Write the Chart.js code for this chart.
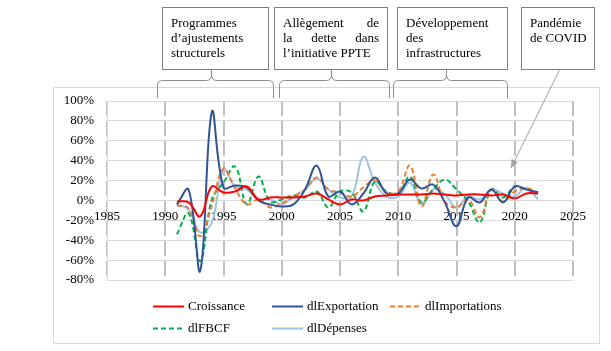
<!DOCTYPE html>
<html>
<head>
<meta charset="utf-8">
<script src="https://cdn.jsdelivr.net/npm/chart.js@4"></script>
<style>
  html, body { margin: 0; padding: 0; background: #fff; }
  canvas { display: block; }
</style>
</head>
<body>
<canvas id="c" width="611" height="351"></canvas>
<script>
const years = [1991, 1992, 1993, 1994, 1995, 1996, 1997, 1998, 1999, 2000, 2001, 2002, 2003, 2004, 2005, 2006,
  2007, 2008, 2009, 2010, 2011, 2012, 2013, 2014, 2015, 2016, 2017, 2018, 2019, 2020, 2021, 2022];
const croissance = [-1, -2, -16, 14, 8, 9, 14, 1, 3, 3, 3, 4, 7, 1, -4, 1, 0, 4, 5, 6, 6, 6, 7, 6, 5, 6, 6, 5, 6, 2, 7, 7];
const dlExportation = [-4, 11, -71, 89, 13, 15, 13, 0, -4, -6, -4, 11, 35, 4, 9, -4, 7, 23, 7, 7, 21, 12, 16, -2, -26, 3, -2, 11, -2, 14, 11, 8];
const dlImportations = [-5, -8, -36, -5, 32, 12, -4, 1, -7, -3, 4, 11, 23, 11, 8, 4, 13, 20, 8, 9, 35, -6, 26, -1, -7, 1, -17, 11, -1, 9, 12, 8];
const dlFBCF = [-34, -13, -61, 1, 18, 34, -4, 24, -1, 1, 5, 3, 9, -7, 9, 8, -11, 19, 9, 7, 24, -2, 11, 21, 11, -1, -22, 11, 3, 14, 11, 8];
const dlDepenses = [-4, -9, -32, -22, 31, 14, 11, 1, 1, -4, 4, 11, 22, 11, 3, 4, 44, 18, 4, 4, 18, -4, 11, 6, -7, 4, 1, 11, 7, 4, 13, 1];
const xTicks = [1985, 1990, 1995, 2000, 2005, 2010, 2015, 2020, 2025];
const yTicks = [-80, -60, -40, -20, 0, 20, 40, 60, 80, 100];

const FONT = '"Liberation Serif", "Times New Roman", serif';
const TEXT_FONT = '13px ' + FONT;

const series = [
  { label: 'Croissance', values: croissance, color: '#ff0000', dash: [] },
  { label: 'dlExportation', values: dlExportation, color: '#2f5597', dash: [] },
  { label: 'dlImportations', values: dlImportations, color: '#ed7d31', dash: [5, 3] },
  { label: 'dlFBCF', values: dlFBCF, color: '#00b050', dash: [5, 3] },
  { label: 'dlDépenses', values: dlDepenses, color: '#9dc3e6', dash: [] }
];

// legend slots (row, column)
const legendSlots = [[0, 0], [0, 1], [0, 2], [1, 0], [1, 1]];

const boxes = [
  { x: 162, w: 106, lines: ['Programmes', 'd’ajustements', 'structurels'] },
  { x: 274, w: 113, lines: [['Allègement', 'de'], ['la', 'dette', 'dans'], 'l’initiative PPTE'] },
  { x: 397, w: 110, lines: ['Développement', 'des', 'infrastructures'] },
  { x: 521, w: 73, lines: ['Pandémie', 'de COVID'] }
];
const braces = [
  { x1: 157, x2: 273, tip: 211 },
  { x1: 279, x2: 389, tip: 331 },
  { x1: 393, x2: 507, tip: 446 }
];

const decor = {
  id: 'decor',
  beforeDraw(chart) {
    const ctx = chart.ctx;
    ctx.save();
    ctx.fillStyle = '#fff';
    ctx.fillRect(0, 0, chart.width, chart.height);
    ctx.strokeStyle = '#d9d9d9';
    ctx.lineWidth = 1;
    ctx.strokeRect(53.5, 87.5, 546, 256);
    ctx.restore();
  },
  afterDraw(chart) {
    const ctx = chart.ctx;
    ctx.save();
    // legend
    const colX = [153, 272, 390];
    const rowY = [306, 328];
    chart.data.datasets.forEach((ds, i) => {
      const [r, c] = legendSlots[i];
      const x = colX[c], y = rowY[r] + 0.5;
      ctx.strokeStyle = ds.borderColor;
      ctx.lineWidth = 2;
      ctx.setLineDash(ds.borderDash || []);
      ctx.beginPath();
      ctx.moveTo(x, y);
      ctx.lineTo(x + 31, y);
      ctx.stroke();
      ctx.setLineDash([]);
      ctx.font = TEXT_FONT;
      ctx.textAlign = 'left';
      ctx.textBaseline = 'middle';
      ctx.fillStyle = '#000';
      ctx.fillText(ds.label, x + 35, y);
    });

    // annotation boxes
    ctx.strokeStyle = '#7f7f7f';
    ctx.lineWidth = 1;
    boxes.forEach(b => {
      ctx.fillStyle = '#fff';
      ctx.fillRect(b.x, 7, b.w, 62);
      ctx.strokeRect(b.x + 0.5, 7.5, b.w, 62);
      ctx.fillStyle = '#000';
      ctx.font = TEXT_FONT;
      ctx.textBaseline = 'alphabetic';
      const left = b.x + 9, right = b.x + b.w - 8;
      b.lines.forEach((ln, i) => {
        const y = 27 + i * 15;
        if (Array.isArray(ln)) {
          const widths = ln.map(w => ctx.measureText(w).width);
          const gap = (right - left - widths.reduce((a, v) => a + v, 0)) / (ln.length - 1);
          let x = left;
          ln.forEach((w, k) => { ctx.fillText(w, x, y); x += widths[k] + gap; });
        } else {
          ctx.fillText(ln, left, y);
        }
      });
    });

    // braces
    ctx.strokeStyle = '#8c8c8c';
    const yh = 80.5, yb = 98, yt = 69;
    braces.forEach(br => {
      const x1 = br.x1 + 0.5, x2 = br.x2 + 0.5, t = br.tip + 0.5;
      ctx.beginPath();
      ctx.moveTo(x1, yb);
      ctx.lineTo(x1, yh + 5);
      ctx.quadraticCurveTo(x1, yh, x1 + 5, yh);
      ctx.lineTo(t - 5, yh);
      ctx.quadraticCurveTo(t, yh, t, yh - 6);
      ctx.lineTo(t, yt);
      ctx.moveTo(t, yh - 6);
      ctx.quadraticCurveTo(t, yh, t + 5, yh);
      ctx.lineTo(x2 - 5, yh);
      ctx.quadraticCurveTo(x2, yh, x2, yh + 5);
      ctx.lineTo(x2, yb);
      ctx.stroke();
    });

    // arrow for COVID box
    const ax1 = 560, ay1 = 69, ax2 = 511, ay2 = 168;
    ctx.strokeStyle = '#a0a0a0';
    ctx.fillStyle = '#a0a0a0';
    ctx.beginPath();
    ctx.moveTo(ax1, ay1);
    ctx.lineTo(ax2, ay2);
    ctx.stroke();
    const ang = Math.atan2(ay2 - ay1, ax2 - ax1);
    ctx.beginPath();
    ctx.moveTo(ax2, ay2);
    ctx.lineTo(ax2 - 9 * Math.cos(ang - 0.4), ay2 - 9 * Math.sin(ang - 0.4));
    ctx.lineTo(ax2 - 9 * Math.cos(ang + 0.4), ay2 - 9 * Math.sin(ang + 0.4));
    ctx.closePath();
    ctx.fill();
    ctx.restore();
  }
};

new Chart(document.getElementById('c'), {
  type: 'line',
  data: {
    datasets: series.map(s => ({
      label: s.label,
      data: years.map((yr, i) => ({ x: yr, y: s.values[i] })),
      borderColor: s.color,
      backgroundColor: s.color,
      borderDash: s.dash,
      borderWidth: 2,
      pointRadius: 0,
      tension: 0.4,
      fill: false
    }))
  },
  options: {
    responsive: false,
    animation: false,
    layout: { padding: { left: 53, right: 38, top: 101, bottom: 71 } },
    plugins: { legend: { display: false }, tooltip: { enabled: false } },
    scales: {
      x: {
        type: 'linear',
        position: { y: 0 },
        min: xTicks[0],
        max: xTicks[xTicks.length - 1],
        afterBuildTicks: s => { s.ticks = xTicks.map(v => ({ value: v })); },
        ticks: { callback: v => String(v), font: { family: FONT, size: 13 }, color: '#000', padding: 8 },
        grid: { color: '#bfbfbf', lineWidth: 2, drawTicks: false },
        border: { display: false, dash: [15, 5] }
      },
      y: {
        min: yTicks[0],
        max: yTicks[yTicks.length - 1],
        afterBuildTicks: s => { s.ticks = yTicks.map(v => ({ value: v })); },
        afterFit: s => { s.width = 54; },
        ticks: { callback: v => v + '%', font: { family: FONT, size: 13 }, color: '#000', padding: 13 },
        grid: { color: '#d9d9d9', lineWidth: 1, drawTicks: false },
        border: { color: '#d9d9d9' }
      }
    }
  },
  plugins: [decor]
});
</script>
</body>
</html>
